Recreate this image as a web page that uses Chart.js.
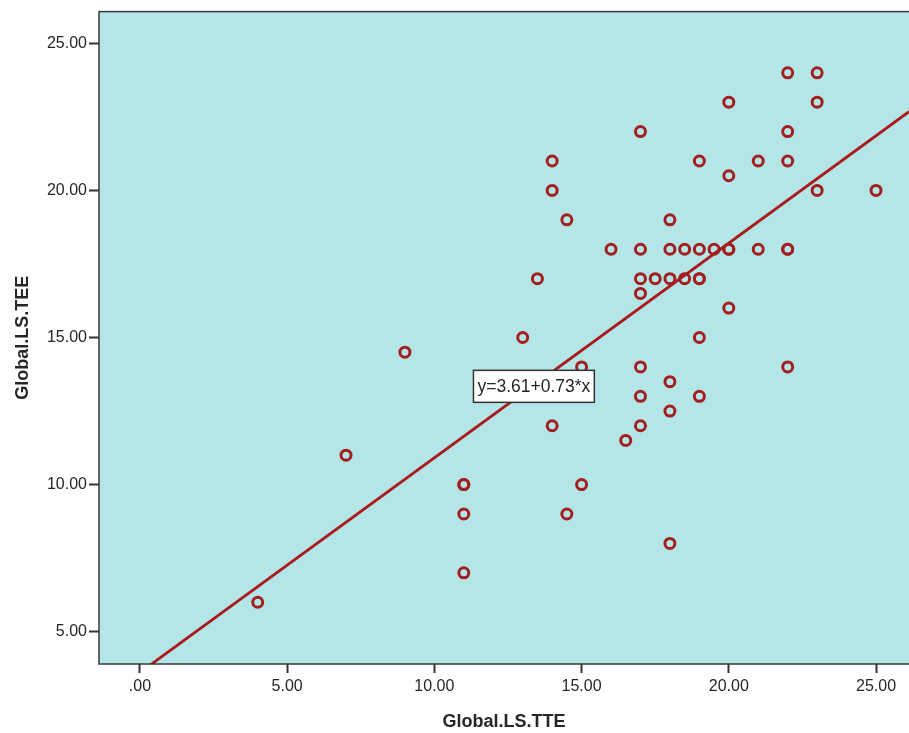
<!DOCTYPE html>
<html>
<head>
<meta charset="utf-8">
<script src="https://cdn.jsdelivr.net/npm/chart.js@4/dist/chart.umd.min.js"></script>
<style>
  html, body { margin: 0; padding: 0; background: #ffffff; }
  canvas { display: block; }
</style>
</head>
<body>
<canvas id="scatter" width="909" height="733"></canvas>
<script>
// Global.LS.TTE (x) vs Global.LS.TEE (y), one entry per case
const tteValues = [
  4, 7, 9, 11, 11, 11, 11,
  13, 13.5, 14, 14, 14, 14.5, 14.5, 14.5, 15, 15,
  16, 16.5, 17, 17, 17, 17, 17, 17, 17, 17.5,
  18, 18, 18, 18, 18, 18, 18.5, 18.5,
  19, 19, 19, 19, 19, 19, 19.5,
  20, 20, 20, 20, 20, 21, 21,
  22, 22, 22, 22, 22, 22, 23, 23, 23, 25
];
const teeValues = [
  6, 11, 14.5, 10, 10, 9, 7,
  15, 17, 21, 20, 12, 19, 13, 9, 14, 10,
  18, 11.5, 22, 18, 17, 16.5, 14, 13, 12, 17,
  19, 18, 17, 13.5, 12.5, 8, 18, 17,
  21, 18, 17, 17, 15, 13, 18,
  23, 20.5, 18, 18, 16, 21, 18,
  24, 22, 21, 18, 18, 14, 24, 23, 20, 20
];

// linear fit shown on the chart
const fitIntercept = 3.61;
const fitSlope = 0.73;
const fitLabel = 'y=3.61+0.73*x';
const fitLabelAt = { x: 13.38, y: 13.34 };

const xTitle = 'Global.LS.TTE';
const yTitle = 'Global.LS.TEE';
const xRange = [-1.39, 26.12];
const yRange = [3.9, 26.08];
const tickValues = [0, 5, 10, 15, 20, 25];

const points = tteValues.map((x, i) => ({ x: x, y: teeValues[i] }));
const fitLine = xRange.map(x => ({ x: x, y: fitIntercept + fitSlope * x }));

const ink = '#262626';
const markColor = '#a31e1f';
const fontFamily = '"Liberation Sans", Arial, sans-serif';

// plot background + frame
const framePlugin = {
  id: 'frame',
  beforeDraw(chart) {
    const a = chart.chartArea;
    const ctx = chart.ctx;
    ctx.save();
    ctx.fillStyle = '#b4e6e7';
    ctx.fillRect(a.left, a.top, a.right - a.left, a.bottom - a.top);
    ctx.restore();
  },
  afterDraw(chart) {
    const a = chart.chartArea;
    const ctx = chart.ctx;
    ctx.save();
    ctx.strokeStyle = '#3a3a3a';
    ctx.lineWidth = 1.5;
    ctx.strokeRect(a.left, a.top, a.right - a.left + 5, a.bottom - a.top);
    ctx.restore();
  }
};

// boxed equation label
const fitLabelPlugin = {
  id: 'fitLabel',
  afterDatasetsDraw(chart) {
    const ctx = chart.ctx;
    const cx = chart.scales.x.getPixelForValue(fitLabelAt.x);
    const cy = chart.scales.y.getPixelForValue(fitLabelAt.y);
    ctx.save();
    ctx.font = '17.5px ' + fontFamily;
    const w = ctx.measureText(fitLabel).width + 8;
    const h = 32;
    ctx.fillStyle = '#ffffff';
    ctx.fillRect(cx - w / 2, cy - h / 2, w, h);
    ctx.strokeStyle = '#333333';
    ctx.lineWidth = 1.5;
    ctx.strokeRect(cx - w / 2, cy - h / 2, w, h);
    ctx.fillStyle = ink;
    ctx.textAlign = 'center';
    ctx.textBaseline = 'middle';
    ctx.fillText(fitLabel, cx, cy + 1);
    ctx.restore();
  }
};

function fmtTick(v) {
  const s = Number(v).toFixed(2);
  return s.startsWith('0') ? s.slice(1) : s;
}

new Chart(document.getElementById('scatter'), {
  type: 'scatter',
  data: {
    datasets: [
      {
        data: points,
        pointStyle: 'circle',
        pointRadius: 5,
        pointBorderWidth: 3,
        pointBackgroundColor: 'rgba(0,0,0,0)',
        pointBorderColor: markColor
      },
      {
        type: 'line',
        data: fitLine,
        borderColor: '#aa191b',
        borderWidth: 2.8,
        pointRadius: 0,
        fill: false
      }
    ]
  },
  options: {
    responsive: false,
    animation: false,
    layout: { autoPadding: false, padding: { top: 11, left: 0, right: 0, bottom: 0 } },
    plugins: { legend: { display: false }, tooltip: { enabled: false } },
    scales: {
      x: {
        type: 'linear',
        min: xRange[0],
        max: xRange[1],
        afterBuildTicks: s => { s.ticks = tickValues.map(v => ({ value: v })); },
        afterFit: s => { s.height = 69; },
        border: { display: false },
        grid: { drawOnChartArea: false, tickLength: 9, tickWidth: 2, color: '#333333' },
        ticks: {
          color: ink,
          padding: 4,
          font: { family: fontFamily, size: 16 },
          callback: v => fmtTick(v)
        },
        title: {
          display: true,
          text: xTitle,
          color: ink,
          padding: { top: 10, bottom: 0 },
          font: { family: fontFamily, size: 18, weight: 'bold' }
        }
      },
      y: {
        type: 'linear',
        min: yRange[0],
        max: yRange[1],
        afterBuildTicks: s => { s.ticks = tickValues.filter(v => v >= 5).map(v => ({ value: v })); },
        afterFit: s => { s.width = 99; },
        border: { display: false },
        grid: { drawOnChartArea: false, tickLength: 10, tickWidth: 2, color: '#333333' },
        ticks: {
          color: ink,
          padding: 2,
          font: { family: fontFamily, size: 16 },
          callback: v => fmtTick(v)
        },
        title: {
          display: true,
          text: yTitle,
          color: ink,
          padding: { top: 12, bottom: 0 },
          font: { family: fontFamily, size: 18, weight: 'bold' }
        }
      }
    }
  },
  plugins: [framePlugin, fitLabelPlugin]
});
</script>
</body>
</html>
